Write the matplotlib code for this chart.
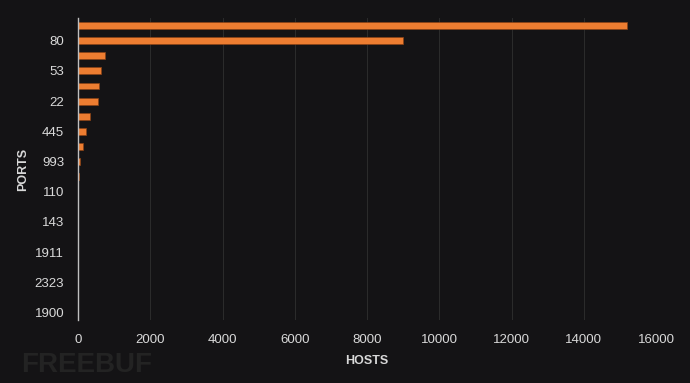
import matplotlib
matplotlib.use("Agg")
import matplotlib.pyplot as plt
import numpy as np

# ports from bottom to top (only every other one is labelled in the chart)
ports = ["1900", "1723", "2323", "23", "1911", "587", "143", "8443", "110", "995",
         "993", "3306", "445", "3389", "22", "25", "53", "8080", "80", "443"]
hosts = [1, 2, 3, 4, 5, 6, 8, 10, 12, 30,
         45, 150, 210, 340, 560, 580, 640, 740, 9000, 15200]
xticks = [0, 2000, 4000, 6000, 8000, 10000, 12000, 14000, 16000]

bg = "#141315"
txt = "#d9d9d9"
orange = "#ed7d31"

plt.rcParams["font.family"] = ["Liberation Sans", "DejaVu Sans"]

fig = plt.figure(figsize=(6.9, 3.83), dpi=100)
fig.patch.set_facecolor(bg)
ax = fig.add_axes([0.113, 0.164, 0.838, 0.789])
ax.set_facecolor(bg)

y = np.arange(len(ports))
ax.barh(y, hosts, height=0.45, color=orange, edgecolor="#8a4215", linewidth=0.5, zorder=3)

ax.set_ylim(-0.5, len(ports) - 0.5)
ax.set_xlim(0, 16000)
ax.set_xticks(xticks)
ax.set_xticklabels([str(v) for v in xticks], color=txt, fontsize=9.5)
ax.set_yticks(y[::2])
ax.set_yticklabels(ports[::2], color=txt, fontsize=9.5)
ax.tick_params(length=0, pad=10)
ax.tick_params(axis="x", pad=10)

ax.grid(axis="x", color="#2c2c2c", linewidth=0.7, zorder=0)
for s in ["top", "right", "bottom"]:
    ax.spines[s].set_visible(False)
ax.spines["left"].set_color("#bfbfbf")
ax.spines["left"].set_linewidth(1.0)
ax.spines["left"].set_zorder(4)

ax.set_xlabel("HOSTS", color=txt, fontsize=9, fontweight="bold")
ax.set_ylabel("PORTS", color=txt, fontsize=9, fontweight="bold")
ax.xaxis.set_label_coords(0.5, -0.116)
ax.yaxis.set_label_coords(-0.085, 0.5)

fig.text(0.03, 0.03, "FREEBUF", color="#232323", fontsize=20, fontweight="bold")

fig.savefig("out.png", dpi=100, facecolor=bg)
